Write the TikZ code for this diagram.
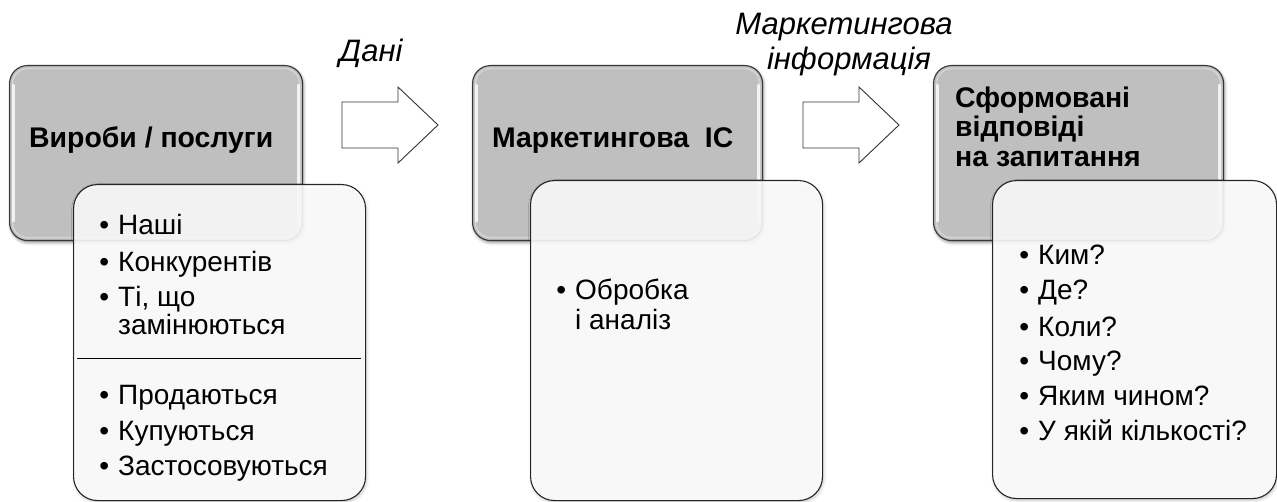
\documentclass[tikz,border=0pt]{standalone}
\usepackage{fontspec}
\setmainfont{Liberation Sans}
\usetikzlibrary{shadows.blur}
\definecolor{boxgrey}{RGB}{191,191,191}
\definecolor{boxedge}{RGB}{55,55,55}

\begin{document}
\begin{tikzpicture}[x=1pt,y=-1pt,
  greybox/.style={draw=boxedge, line width=1.1pt, fill=boxgrey, rounded corners=18pt,
    inner sep=0pt, anchor=north west,
    blur shadow={shadow xshift=1pt, shadow yshift=-2pt, shadow blur radius=3pt, shadow opacity=45}},
  listbox/.style={draw=black!85, line width=1.1pt, fill=white, fill opacity=0.88, rounded corners=24pt,
    inner sep=0pt, anchor=north west,
    blur shadow={shadow xshift=1pt, shadow yshift=-2pt, shadow blur radius=3pt, shadow opacity=25}},
  gloss/.style={white, line width=2.6pt, opacity=0.8, line cap=round},
  title/.style={anchor=base west, inner sep=0pt, font=\fontsize{28.4}{30}\selectfont\bfseries},
  item/.style={anchor=base west, inner sep=0pt, font=\fontsize{28}{30}\selectfont},
  flowlab/.style={anchor=base, inner sep=0pt, font=\fontsize{31}{34}\selectfont\itshape},
  blockarrow/.pic={
    \draw[draw=black!80, line width=0.9pt, fill=white, line join=miter]
      (0,-23) -- (56,-23) -- (56,-38) -- (96,0) -- (56,38) -- (56,23) -- (0,23) -- cycle;
  }
]
\useasboundingbox (0,0) rectangle (1277,502);

% header boxes
\node[greybox, minimum width=293pt, minimum height=175pt] (g1) at (9,65) {};
\node[greybox, minimum width=290pt, minimum height=175pt] (g2) at (472,65) {};
\node[greybox, minimum width=290pt, minimum height=175pt] (g3) at (933,65) {};

% glossy rims on the header boxes
\foreach \b in {g1,g2,g3} {
  \draw[gloss] ([xshift=4.5pt,yshift=-20pt]\b.north west) -- ([xshift=4.5pt,yshift=20pt]\b.south west);
  \draw[gloss] ([xshift=-4.5pt,yshift=-20pt]\b.north east) -- ([xshift=-4.5pt,yshift=20pt]\b.south east);
  \draw[white, opacity=0.35, line width=1.4pt, rounded corners=15pt]
    ([shift={(3.5pt,-3.5pt)}]\b.north west) rectangle ([shift={(-3.5pt,3.5pt)}]\b.south east);
}

% detail boxes
\node[listbox, minimum width=292pt, minimum height=316pt] (w1) at (73,184) {};
\node[listbox, minimum width=292pt, minimum height=320pt] (w2) at (530,180) {};
\node[listbox, minimum width=284pt, minimum height=318pt] (w3) at (992,180) {};

% flow arrows and their labels
\pic at (342,125) {blockarrow};
\pic at (803,125) {blockarrow};
\node[flowlab] (dani) at (371,62) {Дані};
\node[flowlab] (info1) at (844,35) {Маркетингова};
\node[flowlab] (info2) at (849,70) {інформація};

% titles
\node[title] (t1) at (29,148) {Вироби / послуги};
\node[title] (t2) at (492,148) {Маркетингова\ \ ІС};
\node[title] (t3a) at (955,108) {Сформовані};
\node[title] (t3b) at (955,137) {відповіді};
\node[title] (t3c) at (955,167) {на запитання};

% first list
\node[item] (p1) at (118,235) {\llap{•\hspace{9pt}}Наші};
\node[item] (p2) at (118,272) {\llap{•\hspace{9pt}}Конкурентів};
\node[item] (p3) at (118,307) {\llap{•\hspace{9pt}}Ті, що};
\node[item] (p3b) at (118,335) {замінюються};
\coordinate (sepL) at (77,358);
\coordinate (sepR) at (361,358);
\draw[line width=0.8pt] (sepL) -- (sepR);
\node[item] (p4) at (118,405) {\llap{•\hspace{9pt}}Продаються};
\node[item] (p5) at (118,440) {\llap{•\hspace{9pt}}Купуються};
\node[item] (p6) at (118,475) {\llap{•\hspace{9pt}}Застосовуються};

% second list
\node[item] (m1) at (575,300) {\llap{•\hspace{9pt}}Обробка};
\node[item] (m1b) at (575,330) {і аналіз};

% third list
\node[item] (q1) at (1038,265) {\llap{•\hspace{9pt}}Ким?};
\node[item] (q2) at (1038,300) {\llap{•\hspace{9pt}}Де?};
\node[item] (q3) at (1038,337) {\llap{•\hspace{9pt}}Коли?};
\node[item] (q4) at (1038,371) {\llap{•\hspace{9pt}}Чому?};
\node[item] (q5) at (1038,406) {\llap{•\hspace{9pt}}Яким чином?};
\node[item] (q6) at (1038,440) {\llap{•\hspace{9pt}}У якій кількості?};
\end{tikzpicture}
\end{document}
